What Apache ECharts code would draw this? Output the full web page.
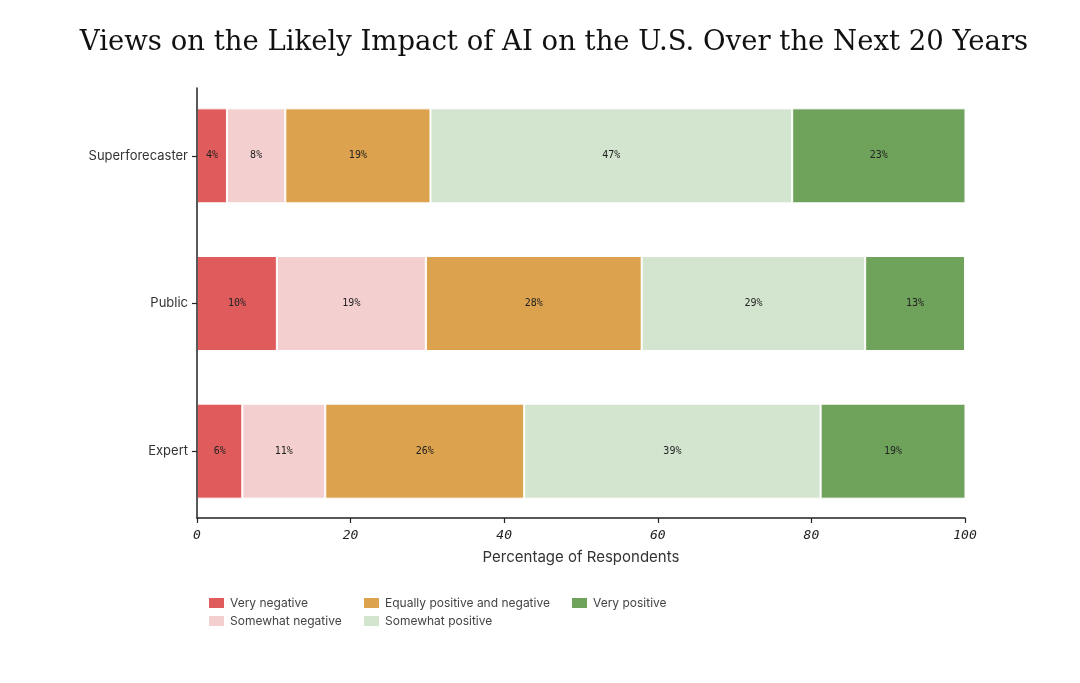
<!DOCTYPE html>
<html>
<head>
<meta charset="utf-8">
<script src="https://cdn.jsdelivr.net/npm/echarts@6/dist/echarts.min.js"></script>
<style>
  html, body { margin: 0; padding: 0; background: #fff; }
  #chart { width: 1080px; height: 683px; }
</style>
</head>
<body>
<div id="chart"></div>
<script>
// groups, top to bottom
var groups = ['Superforecaster', 'Public', 'Expert'];
var seriesNames = ['Very negative', 'Somewhat negative', 'Equally positive and negative', 'Somewhat positive', 'Very positive'];
var colors = ['#e05c5c', '#f4cfcf', '#dda24e', '#d3e4cf', '#6fa35c'];

// percentages per group (Superforecaster, Public, Expert)
var veryNegative = [3.9, 10.4, 5.9];
var somewhatNegative = [7.6, 19.4, 10.8];
var equallyPosNeg = [18.9, 28.1, 25.9];
var somewhatPositive = [47.1, 29.1, 38.6];
var veryPositive = [22.6, 13.0, 18.9];

var xTicks = [0, 20, 40, 60, 80, 100];

var allValues = [veryNegative, somewhatNegative, equallyPosNeg, somewhatPositive, veryPositive];

var myChart = echarts.init(document.getElementById('chart'));

var series = [];
for (var i = 0; i < seriesNames.length; i++) {
    series.push({
        name: seriesNames[i],
        type: 'bar',
        stack: 'total',
        xAxisIndex: 0,
        yAxisIndex: 0,
        barWidth: 95,
        data: allValues[i],
        itemStyle: { color: colors[i], borderColor: '#fff', borderWidth: 1 },
        label: {
            show: true,
            position: 'inside',
            fontFamily: 'DejaVu Sans Mono',
            fontSize: 10,
            color: '#222',
            formatter: function (p) { return Math.round(p.value) + '%'; }
        },
        emphasis: { disabled: true }
    });
}

var legendText = { fontFamily: 'Inter', fontSize: 12, color: '#444' };
function makeLegend(names, left) {
    return {
        data: names,
        orient: 'vertical',
        left: left,
        top: 596,
        padding: 0,
        itemWidth: 17,
        itemHeight: 12,
        itemGap: 4,
        icon: 'rect',
        textStyle: legendText,
        selectedMode: false
    };
}

var option = {
    animation: false,
    title: {
        text: 'Views on the Likely Impact of AI on the U.S. Over the Next 20 Years',
        left: 549,
        textAlign: 'center',
        top: 24,
        textStyle: { fontFamily: 'DejaVu Serif', fontWeight: 'normal', fontSize: 27.5, color: '#111' }
    },
    legend: [
        makeLegend([seriesNames[0], seriesNames[1]], 207),
        makeLegend([seriesNames[2], seriesNames[3]], 362),
        makeLegend([seriesNames[4]], 570)
    ],
    grid: [
        { left: 197, right: 115, top: 82, height: 443 },
        { left: 197, right: 115, top: 88, height: 430 }
    ],
    xAxis: [
        { gridIndex: 0, type: 'value', min: 0, max: 100, show: false },
        {
            gridIndex: 1, type: 'value', min: 0, max: 100, interval: 20,
            z: 5,
            name: 'Percentage of Respondents',
            nameLocation: 'middle',
            nameGap: 32,
            nameTextStyle: { fontFamily: 'Inter', fontSize: 15, color: '#333' },
            axisLine: { show: true, lineStyle: { color: '#222', width: 1.5 } },
            axisTick: { show: true, length: 5, lineStyle: { color: '#222', width: 1.2 } },
            axisLabel: {
                fontFamily: 'DejaVu Sans Mono', fontStyle: 'italic', fontSize: 13, color: '#222', margin: 11,
                formatter: function (v) { return xTicks.indexOf(v) >= 0 ? String(v) : ''; }
            },
            splitLine: { show: false }
        }
    ],
    yAxis: [
        {
            gridIndex: 0, type: 'category', data: groups, inverse: true,
            axisLine: { show: false },
            axisTick: { show: true, alignWithLabel: true, length: 5, lineStyle: { color: '#222', width: 1.2 } },
            axisLabel: { fontFamily: 'Inter', fontSize: 13, color: '#333', margin: 9 }
        },
        {
            gridIndex: 1, type: 'value', min: 0, max: 1,
            z: 5,
            axisLine: { show: true, lineStyle: { color: '#222', width: 1.5 } },
            axisTick: { show: false },
            axisLabel: { show: false },
            splitLine: { show: false }
        }
    ],
    series: series
};

option && myChart.setOption(option);
</script>
</body>
</html>
